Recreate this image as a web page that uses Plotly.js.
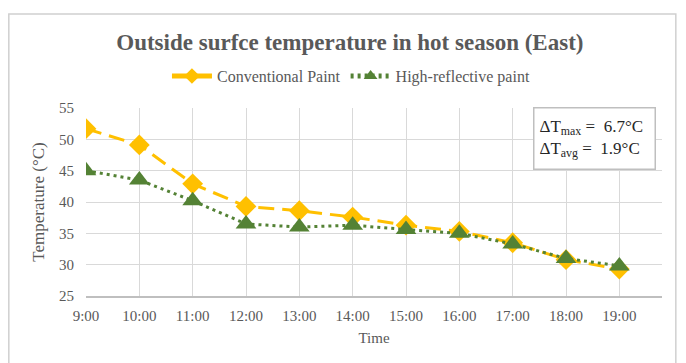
<!DOCTYPE html>
<html>
<head>
<meta charset="utf-8">
<script src="https://cdn.plot.ly/plotly-3.0.1.min.js"></script>
<style>html,body{margin:0;padding:0;background:#fff;}#chart{width:686px;height:363px;}</style>
</head>
<body>
<div id="chart"></div>
<script>
const times = ["9:00","10:00","11:00","12:00","13:00","14:00","15:00","16:00","17:00","18:00","19:00"];
const conventional = [51.7, 49.1, 42.9, 39.3, 38.6, 37.6, 36.3, 35.3, 33.5, 30.8, 29.3];
const highReflective = [45.0, 43.5, 40.2, 36.5, 36.0, 36.3, 35.6, 35.0, 33.3, 31.0, 29.8];
const seriesNames = ["Conventional Paint", "High-reflective paint"];
const yTicks = [25, 30, 35, 40, 45, 50, 55];

const font = "'Liberation Serif', 'Times New Roman', serif";
const grey = "#595959";

const traces = [
  {
    x: times, y: conventional, name: seriesNames[0], type: "scatter", mode: "lines+markers",
    line: {color: "#FFC000", width: 3, dash: "16px,8px"},
    marker: {symbol: "diamond", size: 16, color: "#FFC000"}
  },
  {
    x: times, y: highReflective, name: seriesNames[1], type: "scatter", mode: "lines+markers",
    line: {color: "#548235", width: 3, dash: "3px,4px"},
    marker: {symbol: "triangle-up", size: 18, color: "#548235"}
  }
];

const layout = {
  width: 686, height: 363,
  margin: {l: 86, r: 24, t: 108, b: 67},
  paper_bgcolor: "#fff", plot_bgcolor: "#fff",
  font: {family: font, color: grey, size: 14},
  title: {
    text: "<b>Outside surfce temperature in hot season (East)</b>",
    font: {family: font, size: 23, color: grey},
    x: 0.51, xanchor: "center", y: 0.884, yanchor: "middle"
  },
  showlegend: true,
  legend: {
    orientation: "h", x: 0.46, xanchor: "center", y: 1.17, yanchor: "middle",
    font: {family: font, size: 16, color: grey}, itemwidth: 40, tracegroupgap: 0,
    itemsizing: "constant"
  },
  xaxis: {
    type: "category", range: [0, 10.8],
    showgrid: true, gridcolor: "#d9d9d9", gridwidth: 1,
    showline: true, linecolor: "#bfbfbf", linewidth: 1.5,
    ticks: "outside", ticklen: 5, tickcolor: "rgba(0,0,0,0)",
    tickfont: {family: font, size: 15, color: grey},
    title: {text: "Time", font: {family: font, size: 15, color: grey}, standoff: 10},
    zeroline: false, fixedrange: true
  },
  yaxis: {
    range: [25, 55], tickvals: yTicks,
    showgrid: true, gridcolor: "#d9d9d9", gridwidth: 1,
    showline: false, zeroline: false,
    ticks: "outside", ticklen: 8, tickcolor: "rgba(0,0,0,0)",
    tickfont: {family: font, size: 15, color: grey},
    title: {text: "Temperature (°C)", font: {family: font, size: 17, color: grey}, standoff: 10},
    fixedrange: true
  },
  annotations: [{
    xref: "paper", yref: "paper", x: 0.776, y: 1.005, xanchor: "left", yanchor: "top",
    text: "ΔT<sub>max</sub> =  6.7°C<br>ΔT<sub>avg</sub> =  1.9°C",
    align: "left", showarrow: false, width: 110, height: 50,
    font: {family: font, size: 17, color: "#262626"},
    bgcolor: "#fff", bordercolor: "#bfbfbf", borderwidth: 1.5, borderpad: 5
  }],
  shapes: [{
    type: "rect", xref: "paper", yref: "paper",
    x0: -0.134, x1: 1.024, y0: -0.5, y1: 1.5,
    line: {color: "#d0d0d0", width: 1.5}, fillcolor: "rgba(0,0,0,0)", layer: "below"
  }]
};

Plotly.newPlot("chart", traces, layout, {displayModeBar: false, staticPlot: true});
</script>
</body>
</html>
